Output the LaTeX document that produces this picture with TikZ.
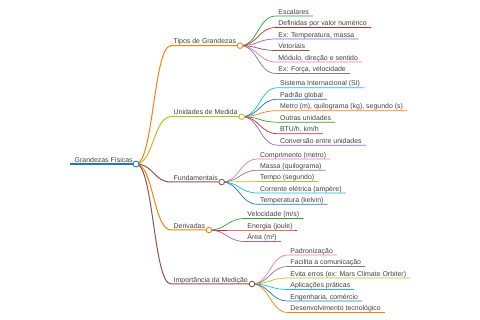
\documentclass[tikz,border=0pt]{standalone}
\usepackage{fontspec}
\setmainfont{Liberation Sans}
\usetikzlibrary{calc}
\definecolor{cA}{HTML}{1F77B4}
\definecolor{cB}{HTML}{FF7F0E}
\definecolor{cC}{HTML}{2CA02C}
\definecolor{cD}{HTML}{D62728}
\definecolor{cE}{HTML}{9467BD}
\definecolor{cF}{HTML}{8C564B}
\definecolor{cG}{HTML}{E377C2}
\definecolor{cH}{HTML}{7F7F7F}
\definecolor{cI}{HTML}{BCBD22}
\definecolor{cJ}{HTML}{17BECF}
\definecolor{txt}{HTML}{404040}
\pgfdeclarelayer{bg}
\pgfsetlayers{bg,main}
\tikzset{
  lbl/.style={inner sep=0pt, anchor=base west, text=txt, font=\fontsize{6.95}{8}\selectfont},
  rootline/.style={line width=1.3pt},
  bline/.style={line width=1pt},
  lline/.style={line width=0.7pt},
  dot/.style={circle, fill=white, line width=0.85pt, minimum size=5.6pt, inner sep=0pt}
}
% branch: name, y(img), circle x, colour, text
\newcommand\branch[5]{%
  \coordinate (#1s) at (171,{320-#2});
  \node[lbl] (#1) at (173.5,{320-#2+1.8}) {#5};
  \begin{pgfonlayer}{bg}
  \draw[bline,draw=#4] let \p1=(rootc.center), \p2=(#1s) in
    (\p1) .. controls ({0.5*\x1+0.5*\x2},\y1) and ({0.5*\x1+0.5*\x2},\y2) .. (\p2) -- ++({#3-171},0);
  \end{pgfonlayer}
  \node[dot,draw=#4] (#1c) at (#3,{320-#2}) {};
}
% leaf: name, parent circle, x start, y(img), colour, text
\newcommand\leaf[6]{%
  \coordinate (#1s) at (#3,{320-#4});
  \node[lbl] (#1) at ({#3+2.2},{320-#4+1.8}) {#6};
  \begin{pgfonlayer}{bg}
  \draw[lline,draw=#5] let \p1=(#2.center), \p2=(#1s) in
    (\p1) .. controls ({0.5*\x1+0.5*\x2},\y1) and ({0.5*\x1+0.5*\x2},\y2) .. (\p2) -- (#1s -| #1.east) -- ++(4,0);
  \end{pgfonlayer}
}
\begin{document}
\begin{tikzpicture}[x=1pt,y=1pt]
\useasboundingbox (0,0) rectangle (480,320);
% root
\coordinate (roots) at (70,156);
\node[lbl] (root) at (74.5,157.8) {Grandezas Físicas};
\begin{pgfonlayer}{bg}
\draw[rootline,draw=cA] (roots) -- (136,156);
\end{pgfonlayer}
\node[dot,draw=cA,minimum size=6pt] (rootc) at (136,156) {};
% branches
\branch{tipos}{45.7}{240}{cB}{Tipos de Grandezas}
\branch{unid}{116.7}{241.7}{cI}{Unidades de Medida}
\branch{fund}{182}{221.7}{cF}{Fundamentais}
\branch{deriv}{230}{209}{cB}{Derivadas}
\branch{imp}{284}{252}{cF}{Importância da Medição}
% leaves: Tipos
\leaf{t1}{tiposc}{276}{16}{cC}{Escalares}
\leaf{t2}{tiposc}{276}{27.5}{cD}{Definidas por valor numérico}
\leaf{t3}{tiposc}{276}{39}{cE}{Ex: Temperatura, massa}
\leaf{t4}{tiposc}{276}{50.5}{cF}{Vetoriais}
\leaf{t5}{tiposc}{276}{62}{cG}{Módulo, direção e sentido}
\leaf{t6}{tiposc}{276}{73.5}{cH}{Ex: Força, velocidade}
% Unidades
\leaf{u1}{unidc}{277.7}{87.7}{cJ}{Sistema Internacional (SI)}
\leaf{u2}{unidc}{277.7}{99.2}{cA}{Padrão global}
\leaf{u3}{unidc}{277.7}{110.7}{cB}{Metro (m), quilograma (kg), segundo (s)}
\leaf{u4}{unidc}{277.7}{122.2}{cC}{Outras unidades}
\leaf{u5}{unidc}{277.7}{133.7}{cD}{BTU/h, km/h}
\leaf{u6}{unidc}{277.7}{145.2}{cE}{Conversão entre unidades}
% Fundamentais
\leaf{f1}{fundc}{257.7}{159}{cG}{Comprimento (metro)}
\leaf{f2}{fundc}{257.7}{170.3}{cH}{Massa (quilograma)}
\leaf{f3}{fundc}{257.7}{181.6}{cI}{Tempo (segundo)}
\leaf{f4}{fundc}{257.7}{193}{cJ}{Corrente elétrica (ampère)}
\leaf{f5}{fundc}{257.7}{204.3}{cA}{Temperatura (kelvin)}
% Derivadas
\leaf{d1}{derivc}{245}{218.5}{cC}{Velocidade (m/s)}
\leaf{d2}{derivc}{245}{230}{cD}{Energia (joule)}
\leaf{d3}{derivc}{245}{241.5}{cE}{Área (m²)}
% Importancia
\leaf{i1}{impc}{288}{255}{cG}{Padronização}
\leaf{i2}{impc}{288}{266.5}{cH}{Facilita a comunicação}
\leaf{i3}{impc}{288}{278}{cI}{Evita erros (ex: Mars Climate Orbiter)}
\leaf{i4}{impc}{288}{289.5}{cJ}{Aplicações práticas}
\leaf{i5}{impc}{288}{301}{cA}{Engenharia, comércio}
\leaf{i6}{impc}{288}{312.5}{cB}{Desenvolvimento tecnológico}
\end{tikzpicture}
\end{document}
